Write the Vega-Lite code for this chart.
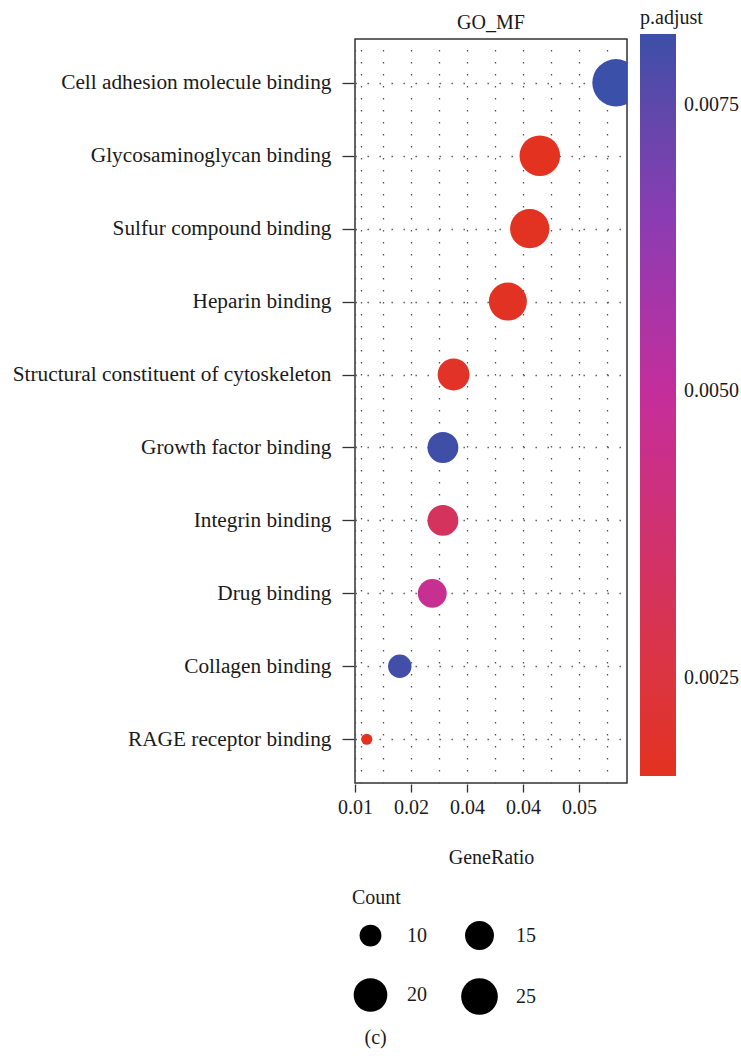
{
  "$schema": "https://vega.github.io/schema/vega-lite/v6.json",
  "background": "white",
  "padding": {"left": 12, "top": 8, "right": 3, "bottom": 12},
  "title": {
    "text": "(c)",
    "orient": "bottom",
    "anchor": "middle",
    "frame": "bounds",
    "fontSize": 20,
    "font": "Liberation Serif",
    "fontWeight": "normal",
    "color": "#1a1a1a",
    "offset": 13
  },
  "data": {
    "values": [
      {"Ontology": "GO_MF", "Description": "Cell adhesion molecule binding", "GeneRatio": 0.0566, "Count": 43, "padj": 0.00812},
      {"Ontology": "GO_MF", "Description": "Glycosaminoglycan binding", "GeneRatio": 0.0430, "Count": 31, "padj": 0.00168},
      {"Ontology": "GO_MF", "Description": "Sulfur compound binding", "GeneRatio": 0.0412, "Count": 29, "padj": 0.00172},
      {"Ontology": "GO_MF", "Description": "Heparin binding", "GeneRatio": 0.0373, "Count": 27, "padj": 0.00178},
      {"Ontology": "GO_MF", "Description": "Structural constituent of cytoskeleton", "GeneRatio": 0.0276, "Count": 18, "padj": 0.00185},
      {"Ontology": "GO_MF", "Description": "Growth factor binding", "GeneRatio": 0.0257, "Count": 17, "padj": 0.00805},
      {"Ontology": "GO_MF", "Description": "Integrin binding", "GeneRatio": 0.0257, "Count": 17, "padj": 0.0033},
      {"Ontology": "GO_MF", "Description": "Drug binding", "GeneRatio": 0.0238, "Count": 15, "padj": 0.0047},
      {"Ontology": "GO_MF", "Description": "Collagen binding", "GeneRatio": 0.0180, "Count": 11, "padj": 0.0080},
      {"Ontology": "GO_MF", "Description": "RAGE receptor binding", "GeneRatio": 0.0121, "Count": 7, "padj": 0.00164}
    ]
  },
  "facet": {
    "column": {
      "field": "Ontology",
      "type": "nominal",
      "header": {
        "title": null,
        "labelFontSize": 20,
        "labelFont": "Liberation Serif",
        "labelColor": "#1a1a1a",
        "labelPadding": 5
      }
    }
  },
  "spec": {
    "width": 272,
    "height": 744,
    "mark": {"type": "circle", "opacity": 1, "clip": true, "strokeWidth": 0},
    "encoding": {
      "x": {
        "field": "GeneRatio",
        "type": "quantitative",
        "scale": {"domain": [0.01, 0.05857], "nice": false, "zero": false},
        "axis": {
          "title": "GeneRatio",
          "titleFontSize": 20,
          "titleFontWeight": "normal",
          "titleColor": "#1a1a1a",
          "titlePadding": 30,
          "values": [0.01, 0.011, 0.015, 0.02, 0.025, 0.03, 0.035, 0.04, 0.045, 0.05, 0.055],
          "labelExpr": "datum.value==0.01?'0.01':datum.value==0.02?'0.02':datum.value==0.03?'0.04':datum.value==0.04?'0.04':datum.value==0.05?'0.05':''",
          "labelOverlap": false,
          "labelFlush": false,
          "labelFontSize": 20,
          "labelColor": "#1a1a1a",
          "labelPadding": 5,
          "tickSize": 8,
          "tickWidth": 1.3,
          "tickColor": "#333",
          "tickOpacity": {"condition": {"test": "datum.value==0.01||datum.value==0.02||datum.value==0.03||datum.value==0.04||datum.value==0.05", "value": 1}, "value": 0},
          "domain": false,
          "grid": true,
          "gridDash": [1.4, 10.6],
          "gridColor": "#555",
          "gridWidth": 1.3
        }
      },
      "y": {
        "field": "Description",
        "type": "nominal",
        "sort": null,
        "scale": {"type": "point", "padding": 0.6},
        "axis": {
          "title": null,
          "labelFontSize": 21.3,
          "labelColor": "#1a1a1a",
          "labelLimit": 0,
          "labelPadding": 11,
          "tickSize": 12,
          "tickWidth": 1.3,
          "tickColor": "#333",
          "domain": false,
          "grid": true,
          "gridDash": [1.4, 10.6],
          "gridColor": "#555",
          "gridWidth": 1.3
        }
      },
      "size": {
        "field": "Count",
        "type": "quantitative",
        "scale": {
          "domain": [7, 10, 15, 20, 25, 43],
          "range": [125, 475, 835, 1134, 1346, 2240]
        },
        "legend": {
          "orient": "none",
          "legendX": -3,
          "legendY": 849,
          "title": "Count",
          "titleFontSize": 20,
          "titleFontWeight": "normal",
          "titleColor": "#1a1a1a",
          "titlePadding": 13,
          "columns": 2,
          "values": [10, 20, 15, 25],
          "symbolType": "circle",
          "symbolFillColor": "black",
          "symbolStrokeWidth": 0,
          "symbolOpacity": 1,
          "labelFontSize": 20,
          "labelColor": "#1a1a1a",
          "labelOffset": 18,
          "columnPadding": 34,
          "rowPadding": 28
        }
      },
      "color": {
        "field": "padj",
        "type": "quantitative",
        "scale": {
          "domain": [0.00164, 0.0025, 0.005, 0.0065, 0.0075, 0.00812],
          "range": ["#E3321E", "#DC3541", "#C42E9C", "#8C3CB2", "#5E48AA", "#3B50A8"],
          "interpolate": "rgb"
        },
        "legend": {
          "orient": "none",
          "legendX": 285,
          "legendY": -31,
          "direction": "vertical",
          "title": "p.adjust",
          "titleFontSize": 20,
          "titleFontWeight": "normal",
          "titleColor": "#1a1a1a",
          "titlePadding": 6,
          "gradientLength": 742,
          "gradientThickness": 36,
          "gradientStrokeWidth": 0,
          "labelFontSize": 20,
          "labelColor": "#1a1a1a",
          "labelOffset": 8,
          "values": [0.0025, 0.005, 0.0075],
          "format": ".4f"
        }
      }
    }
  },
  "config": {
    "font": "Liberation Serif",
    "view": {"stroke": "#333", "strokeWidth": 1.5}
  }
}
